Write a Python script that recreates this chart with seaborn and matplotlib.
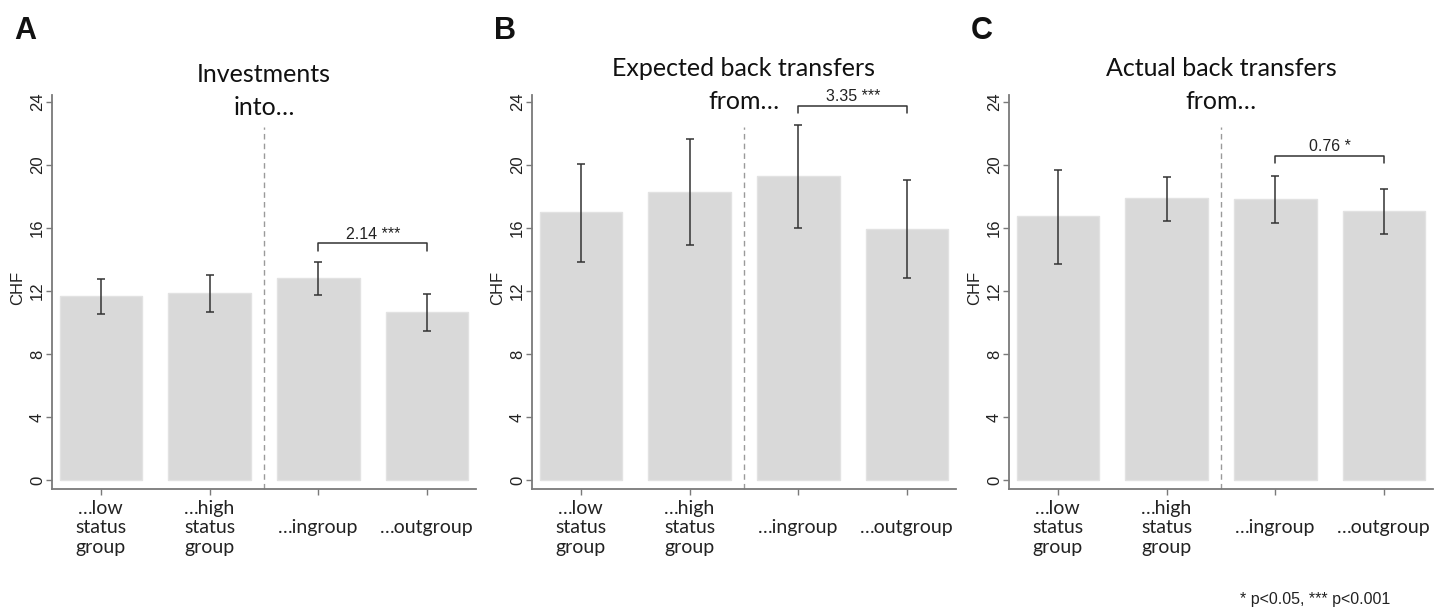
import matplotlib
matplotlib.use("Agg")
import matplotlib.pyplot as plt
import seaborn as sns
import pandas as pd
import numpy as np

# ---------------- data ----------------
categories = ["…low\nstatus\ngroup", "…high\nstatus\ngroup", "…ingroup", "…outgroup"]

inv_mean = [11.70, 11.89, 12.85, 10.67]
inv_lo = [10.52, 10.69, 11.73, 9.46]
inv_hi = [12.78, 13.02, 13.84, 11.83]

exp_mean = [17.00, 18.31, 19.32, 15.96]
exp_lo = [13.86, 14.92, 16.00, 12.80]
exp_hi = [20.04, 21.63, 22.56, 19.07]

act_mean = [16.76, 17.89, 17.82, 17.08]
act_lo = [13.71, 16.46, 16.30, 15.64]
act_hi = [19.68, 19.26, 19.32, 18.46]

panel_letters = ["A", "B", "C"]
title_line1 = ["Investments", "Expected back transfers", "Actual back transfers"]
title_line2 = ["into…", "from…", "from…"]
diff_labels = ["2.14 ***", "3.35 ***", "0.76 *"]
bracket_y = [15.03, 23.75, 20.59]
yticks = [0, 4, 8, 12, 16, 20, 24]
footnote = "* p<0.05, *** p<0.001"

# ---------------- style ----------------
sns.set_theme(style="white")
plt.rcParams["font.family"] = ["Liberation Sans", "DejaVu Sans"]

W, H = 1444, 609
fig = plt.figure(figsize=(W / 100, H / 100), dpi=100)

SPINE = "#7a7a7a"
BAR = "#d9d9d9"
ERR = "#333333"
TITLE_FONT = ["Lato", "DejaVu Sans"]

panels = [
    (inv_mean, inv_lo, inv_hi),
    (exp_mean, exp_lo, exp_hi),
    (act_mean, act_lo, act_hi),
]
lefts = [52, 532, 1009]
ax_w = 424
ax_top, ax_bot = 95, 489
title_base = [(25.27, 23.17), (25.65, 23.56), (25.65, 23.56)]
letter_x = [14, 494, 971]

for i, (mean, lo, hi) in enumerate(panels):
    ax = fig.add_axes([lefts[i] / W, (H - ax_bot) / H, ax_w / W, (ax_bot - ax_top) / H])
    df = pd.DataFrame({"cat": categories, "val": mean})
    sns.barplot(data=df, x="cat", y="val", ax=ax, color=BAR, errorbar=None,
                width=0.76, saturation=1, edgecolor="#e2e2e2", linewidth=1)
    x = np.arange(len(categories))
    m = np.array(mean)
    yerr = np.vstack([m - np.array(lo), np.array(hi) - m])
    ax.errorbar(x, m, yerr=yerr, fmt="none", ecolor=ERR, elinewidth=1.1,
                capsize=3.2, capthick=1.1)

    ax.set_xlim(-0.45, 3.45)
    ax.set_ylim(-0.57, 24.44)
    ax.set_yticks(yticks)
    ax.set_yticklabels([str(t) for t in yticks], rotation=90, va="center")
    ax.set_xlabel("")
    ax.set_ylabel("CHF", fontsize=12, color="#222222")
    ax.yaxis.set_label_coords(-0.064, 0.51)

    for s in ["top", "right"]:
        ax.spines[s].set_visible(False)
    for s in ["left", "bottom"]:
        ax.spines[s].set_color(SPINE)
        ax.spines[s].set_linewidth(1.3)

    ax.tick_params(axis="y", direction="out", length=4, width=1, color=SPINE,
                   labelsize=12, labelcolor="#222222", pad=1, left=True)
    ax.tick_params(axis="x", direction="out", length=4, width=1, color=SPINE,
                   labelsize=14, labelcolor="#222222", pad=24, bottom=True)
    for lab in ax.get_xticklabels():
        lab.set_fontfamily(TITLE_FONT)
        lab.set_linespacing(1.18)
        lab.set_va("center")

    # dashed separator
    ax.plot([1.5, 1.5], [-0.57, 22.4], ls=(0, (4, 3)), color="#9a9a9a", lw=1.0,
            clip_on=False)

    # titles
    ax.text(1.5, title_base[i][0], title_line1[i], ha="center", va="baseline",
            fontsize=18, family=TITLE_FONT, color="#111111", clip_on=False)
    ax.text(1.5, title_base[i][1], title_line2[i], ha="center", va="baseline",
            fontsize=18, family=TITLE_FONT, color="#111111", clip_on=False)

    # significance bracket
    by = bracket_y[i]
    ax.plot([2, 2, 3, 3], [by - 0.47, by, by, by - 0.47], color="#333333", lw=1.1,
            clip_on=False)
    ax.text(2.5, by + 0.3, diff_labels[i], ha="center", va="baseline",
            fontsize=11.5, color="#222222", clip_on=False)

    fig.text(letter_x[i] / W, 1 - 39 / H, panel_letters[i], fontsize=22,
             fontweight="bold", color="#111111", ha="left", va="baseline")

fig.text(1390 / W, 1 - 604 / H, footnote, ha="right", va="baseline",
         fontsize=11.5, color="#222222")

fig.savefig("out.png", dpi=100, facecolor="white")
